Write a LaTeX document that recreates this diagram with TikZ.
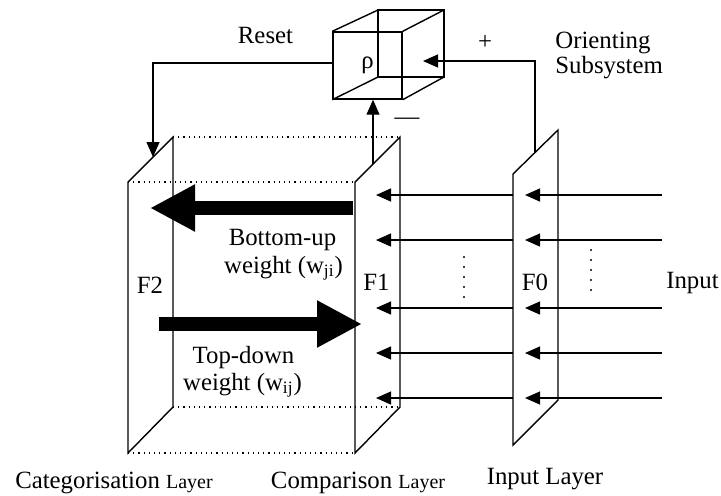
\documentclass[tikz,border=0pt]{standalone}
\usepackage{fontspec}
\setmainfont{Liberation Serif}
\usetikzlibrary{arrows.meta}
\newcommand{\smallword}[1]{{\fontsize{10}{12}\selectfont #1}}
\begin{document}
\begin{tikzpicture}[x=0.5pt,y=-0.5pt]
        \tikzset{plane/.style = {line width=0.7pt},
                 edge/.style = {dotted, line width=0.6pt},
                 wire/.style = {line width=0.6pt, -{Triangle[length=7.5pt,width=6.5pt]}},
                 bigarrow/.style = {line width=7pt, -{Triangle[length=22.5pt,width=22pt]}},
                 lbl/.style = {inner sep=0pt, anchor=base, font=\fontsize{12.4}{14}\selectfont}};
        \useasboundingbox (0,0) rectangle (721,495);
        % reset cube
        \node[draw, line width=0.7pt, inner sep=0pt, minimum width=34.5pt, minimum height=33.5pt,
              font=\fontsize{12.4}{14}\selectfont] (rho) at (367.5,65.5) {ρ};
        \coordinate (bnw) at (378,10);
        \coordinate (bse) at (444,77);
        \draw[plane] (bnw) rectangle (bse);
        \draw[plane] (rho.north west) -- (bnw) (rho.north east) -- (bnw -| bse)
                     (rho.south east) -- (bse) (rho.south west) -- (bnw |- bse);
        % layers
        \coordinate (f2a) at (128,182); \coordinate (f2b) at (173,137);
        \coordinate (f2c) at (173,407); \coordinate (f2d) at (128,453);
        \coordinate (f1a) at (355,182); \coordinate (f1b) at (400,137);
        \coordinate (f1c) at (400,407); \coordinate (f1d) at (355,453);
        \coordinate (f0a) at (513,174); \coordinate (f0b) at (558,130);
        \coordinate (f0c) at (558,400); \coordinate (f0d) at (513,445);
        \draw[plane] (f2a) -- (f2b) -- (f2c) -- (f2d) -- cycle;
        \draw[plane] (f1a) -- (f1b) -- (f1c) -- (f1d) -- cycle;
        \draw[plane] (f0a) -- (f0b) -- (f0c) -- (f0d) -- cycle;
        \draw[edge] (f2a) -- (f1a) (f2b) -- (f1b) (f2c) -- (f1c) (f2d) -- (f1d);
        % feedback lines
        \coordinate (rs) at (153,157);
        \coordinate (os) at (535,153);
        \coordinate (rin) at (423,61);
        \coordinate (cmp) at (373,164);
        \draw[wire] ([yshift=1.25pt]rho.west) -| (rs);
        \draw[wire] (os) |- (rin);
        \draw[wire] (cmp) -- (cmp |- rho.south);
        % input lines
        \foreach \y in {195,240,308,353,398} {
            \coordinate (src) at (662,\y);
            \coordinate (inf0) at (525,\y);
            \coordinate (outf0) at (513,\y);
            \coordinate (inf1) at (376,\y);
            \draw[wire] (src) -- (inf0);
            \draw[wire] (outf0) -- (inf1);
        }
        \foreach \y in {257,267,...,297} \fill (464,\y) circle (0.6pt);
        \foreach \y in {250,260,...,290} \fill (591,\y) circle (0.6pt);
        % weights
        \coordinate (bus) at (353,208); \coordinate (bue) at (150,208);
        \coordinate (tds) at (159,324); \coordinate (tde) at (362,324);
        \draw[bigarrow] (bus) -- (bue);
        \draw[bigarrow] (tds) -- (tde);
        % labels
        \node[lbl] (reset) at (265.5,43) {Reset};
        \node[lbl] (plus) at (485,49) {+};
        \node[lbl] (minus) at (407,124) {—};
        \node[lbl, anchor=base west] (orient) at (555,48) {Orienting};
        \node[lbl, anchor=base west] (subsys) at (555,73) {Subsystem};
        \node[lbl] (bu1) at (282.5,245) {Bottom-up};
        \node[lbl] (bu2) at (283.5,273) {weight (w\textsubscript{ji})};
        \node[lbl] (td1) at (243.5,363) {Top-down};
        \node[lbl] (td2) at (242.5,390) {weight (w\textsubscript{ij})};
        \node[lbl] (lf2) at (150,293) {F2};
        \node[lbl] (lf1) at (376.5,290) {F1};
        \node[lbl] (lf0) at (535,290) {F0};
        \node[lbl] (input) at (692.5,288) {Input};
        \node[lbl] (cat) at (114,488) {Categorisation \smallword{Layer}};
        \node[lbl] (comp) at (358,488) {Comparison \smallword{Layer}};
        \node[lbl] (inl) at (545,484) {Input Layer};
\end{tikzpicture}
\end{document}
